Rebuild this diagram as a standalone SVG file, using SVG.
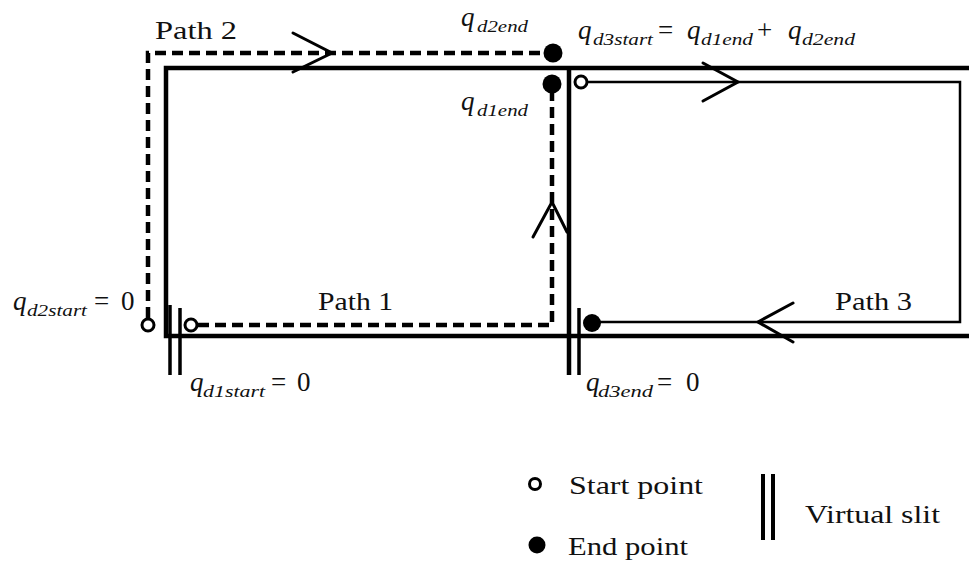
<svg xmlns="http://www.w3.org/2000/svg" width="969" height="563" viewBox="0 0 969 563">
<style>
.bg{fill:#fff}
.wall{stroke:#000;stroke-width:4.5;fill:none}
.slit{stroke:#000;stroke-width:3.5;fill:none}
.dash{stroke:#000;stroke-width:4.5;fill:none;stroke-dasharray:11 6}
.thin{stroke:#000;stroke-width:2.5;fill:none}
.arr{stroke:#000;stroke-width:3;fill:none;stroke-linecap:round;stroke-linejoin:miter}
.start{fill:#fff;stroke:#000;stroke-width:3}
.end{fill:#000}
text{font-family:'Liberation Serif',serif;fill:#111}
.lbl{font-size:25px}
.q{font-style:italic;font-size:27px}
.sub{font-size:16px}
.op{font-style:normal;font-size:27px}
</style>
<rect class="bg" x="0" y="0" width="969" height="563"/>
<g id="boundary">
<path class="wall" d="M969 68 H166 V336 H969"/>
<path class="wall" d="M569 68 V375"/>
<line class="slit" x1="170" y1="305" x2="170" y2="375"/>
<line class="slit" x1="180" y1="308" x2="180" y2="375"/>
<line class="slit" x1="579" y1="308" x2="579" y2="375"/>
</g>
<g id="connectors">
<path class="dash" d="M148 318 V53 H545"/>
<path class="dash" d="M198 325 H552 V90"/>
<path class="thin" d="M587 82 H960 V322 H600"/>
<polyline class="arr" points="293,33 332,53 293,72"/>
<polyline class="arr" points="533,237 552,202 567,232"/>
<polyline class="arr" points="703,63 738,82 703,101"/>
<polyline class="arr" points="793,303 758,322 793,342"/>
</g>
<g id="path1">
<circle class="start" cx="191" cy="325" r="6"/>
<circle class="end" cx="552" cy="84" r="9.5"/>
<text class="lbl" font-family="Liberation Serif" x="318" y="310" textLength="75" lengthAdjust="spacingAndGlyphs">Path 1</text>
</g>
<g id="path2">
<circle class="start" cx="148" cy="325" r="6"/>
<circle class="end" cx="553" cy="53" r="9.5"/>
<text class="lbl" x="155" y="39" textLength="82" lengthAdjust="spacingAndGlyphs">Path 2</text>
</g>
<g id="path3">
<circle class="start" cx="581" cy="82" r="6"/>
<circle class="end" cx="592" cy="323" r="9"/>
<text class="lbl" x="835" y="310" textLength="77" lengthAdjust="spacingAndGlyphs">Path 3</text>
</g>
<g id="labels">
<text class="q"><tspan x="461" y="26">q</tspan><tspan class="sub" x="477" y="32" textLength="51" lengthAdjust="spacingAndGlyphs">d2end</tspan></text>
<text class="q"><tspan x="461" y="110">q</tspan><tspan class="sub" x="477" y="116" textLength="51" lengthAdjust="spacingAndGlyphs">d1end</tspan></text>
<text class="q"><tspan x="578" y="39">q</tspan><tspan class="sub" x="593" y="45" textLength="60" lengthAdjust="spacingAndGlyphs">d3start</tspan><tspan class="op" x="658" y="39">=</tspan><tspan x="687" y="39">q</tspan><tspan class="sub" x="701" y="45" textLength="52" lengthAdjust="spacingAndGlyphs">d1end</tspan><tspan class="op" x="757" y="39">+</tspan><tspan x="788" y="39">q</tspan><tspan class="sub" x="802" y="45" textLength="53" lengthAdjust="spacingAndGlyphs">d2end</tspan></text>
<text class="q"><tspan x="13" y="310">q</tspan><tspan class="sub" x="27" y="316" textLength="60" lengthAdjust="spacingAndGlyphs">d2start</tspan><tspan class="op" x="94" y="310">=</tspan><tspan class="op" x="121" y="310">0</tspan></text>
<text class="q"><tspan x="190" y="391">q</tspan><tspan class="sub" x="203" y="397" textLength="62" lengthAdjust="spacingAndGlyphs">d1start</tspan><tspan class="op" x="271" y="391">=</tspan><tspan class="op" x="297" y="391">0</tspan></text>
<text class="q"><tspan x="586" y="391">q</tspan><tspan class="sub" x="598" y="397" textLength="55" lengthAdjust="spacingAndGlyphs">d3end</tspan><tspan class="op" x="657" y="391">=</tspan><tspan class="op" x="686" y="391">0</tspan></text>
</g>
<g id="legend">
<g id="legend-start">
<circle class="start" cx="535" cy="484" r="5.5"/>
<text class="lbl" x="569" y="494" textLength="134" lengthAdjust="spacingAndGlyphs">Start point</text>
</g>
<g id="legend-end">
<circle class="end" cx="537" cy="545" r="8.5"/>
<text class="lbl" x="568" y="555" textLength="120" lengthAdjust="spacingAndGlyphs">End point</text>
</g>
<g id="legend-slit">
<line class="slit" x1="763" y1="474" x2="763" y2="540" style="stroke-width:4"/>
<line class="slit" x1="773" y1="474" x2="773" y2="540" style="stroke-width:4"/>
<text class="lbl" x="805" y="523" textLength="135" lengthAdjust="spacingAndGlyphs">Virtual slit</text>
</g>
</g>
</svg>
